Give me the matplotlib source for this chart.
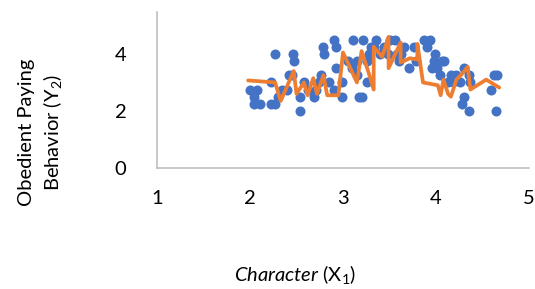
import matplotlib
matplotlib.use("Agg")
from matplotlib import pyplot as plt

# Character (X1) vs Obedient Paying Behavior (Y2)
dot_x = [2.00, 2.07, 2.04, 2.04, 2.11, 2.23, 2.27, 2.23, 2.27, 2.30, 2.34, 2.40,
         2.46, 2.47, 2.42, 2.45, 2.54, 2.54, 2.58, 2.69, 2.71, 2.74, 2.76, 2.79,
         2.80, 2.90, 2.92, 2.92, 2.90, 2.99, 2.99, 3.11, 3.22, 3.17, 3.20, 3.26,
         3.15, 3.10, 3.15, 3.26, 3.28, 3.33, 3.35, 3.30, 3.44, 3.48, 3.51, 3.56,
         3.58, 3.60, 3.66, 3.71, 3.78, 3.76, 3.87, 3.94, 3.90, 3.99, 4.01, 4.06,
         3.96, 4.04, 4.09, 4.13, 4.16, 4.21, 4.26, 4.30, 4.35, 4.37, 4.30, 4.28,
         4.36, 4.59, 4.66, 4.64, 4.62, 2.62, 2.85, 3.05, 3.40, 3.62, 3.98, 4.18]
dot_y = [2.75, 2.75, 2.50, 2.25, 2.25, 2.25, 2.25, 3.00, 4.00, 2.50, 2.75, 2.75,
         4.00, 3.75, 3.25, 3.25, 2.50, 2.00, 3.00, 2.50, 2.75, 3.00, 3.25, 4.25,
         4.00, 2.75, 3.50, 4.25, 4.50, 2.50, 3.00, 4.50, 4.50, 2.50, 2.50, 3.00,
         3.75, 3.50, 3.25, 3.75, 4.00, 4.25, 4.50, 4.25, 4.25, 4.00, 4.50, 4.50,
         4.00, 3.75, 4.25, 3.50, 3.75, 4.25, 4.50, 4.50, 4.25, 4.00, 3.50, 3.75,
         3.50, 3.25, 3.75, 3.00, 3.25, 3.25, 3.00, 3.50, 3.25, 3.00, 2.50, 2.25,
         2.00, 2.75, 3.25, 2.00, 3.25, 2.75, 3.00, 3.75, 4.00, 4.00, 3.75, 3.00]

# predicted line, in data order (not sorted)
line_x = [1.98, 2.27, 2.33, 2.47, 2.50, 2.58, 2.62, 2.68, 2.72, 2.79, 2.83, 2.95,
          3.00, 3.15, 3.20, 3.27, 3.33, 3.33, 3.42, 3.49, 3.49, 3.62, 3.62, 3.72,
          3.80, 3.80, 3.86, 4.02, 4.05, 4.08, 4.13, 4.16, 4.22, 4.28, 4.34, 4.37,
          4.54, 4.68]
line_y = [3.07, 3.00, 2.35, 3.40, 2.60, 3.00, 2.55, 3.15, 2.60, 3.25, 2.55, 2.55,
          4.05, 3.00, 4.10, 3.40, 2.75, 4.25, 3.90, 4.60, 3.50, 4.40, 3.70, 3.85,
          3.80, 4.35, 3.00, 2.90, 2.55, 3.10, 2.60, 2.50, 3.10, 3.30, 3.55, 2.75,
          3.10, 2.82]

xticks = [1, 2, 3, 4, 5]
yticks = [0, 2, 4]

plt.rcParams['font.family'] = ['Lato', 'DejaVu Sans']
plt.rcParams['mathtext.fontset'] = 'custom'
plt.rcParams['mathtext.rm'] = 'Lato'
plt.rcParams['mathtext.it'] = 'Lato:italic'

fig = plt.figure(figsize=(5.35, 2.89), dpi=100)
ax = fig.add_axes([157/535, 1-168/289, 372/535, 156/289])

ax.scatter(dot_x, dot_y, s=52, color='#4472C4', zorder=2, linewidths=0)
ax.plot(line_x, line_y, color='#ED7D31', lw=2.7, zorder=3,
        solid_joinstyle='round', solid_capstyle='round')

ax.set_xlim(1, 5)
ax.set_ylim(0, 5.47)
ax.set_xticks(xticks)
ax.set_yticks(yticks)
ax.tick_params(length=0, labelsize=14.5, colors='black')
ax.tick_params(axis='x', pad=16)
ax.tick_params(axis='y', pad=22)

for s in ['top', 'right']:
    ax.spines[s].set_visible(False)
for s in ['left', 'bottom']:
    ax.spines[s].set_color('#BFBFBF')
    ax.spines[s].set_linewidth(1.2)

fig.text(41/535, 1-132/289, "Obedient Paying\nBehavior (Y$_2$)", rotation=90,
         ha='center', va='center', fontsize=14.5, linespacing=1.35)
fig.text(295/535, 1-275/289, r"$\mathit{Character}$ (X$_1$)",
         ha='center', va='center', fontsize=14.5)

fig.savefig("out.png", dpi=100)
